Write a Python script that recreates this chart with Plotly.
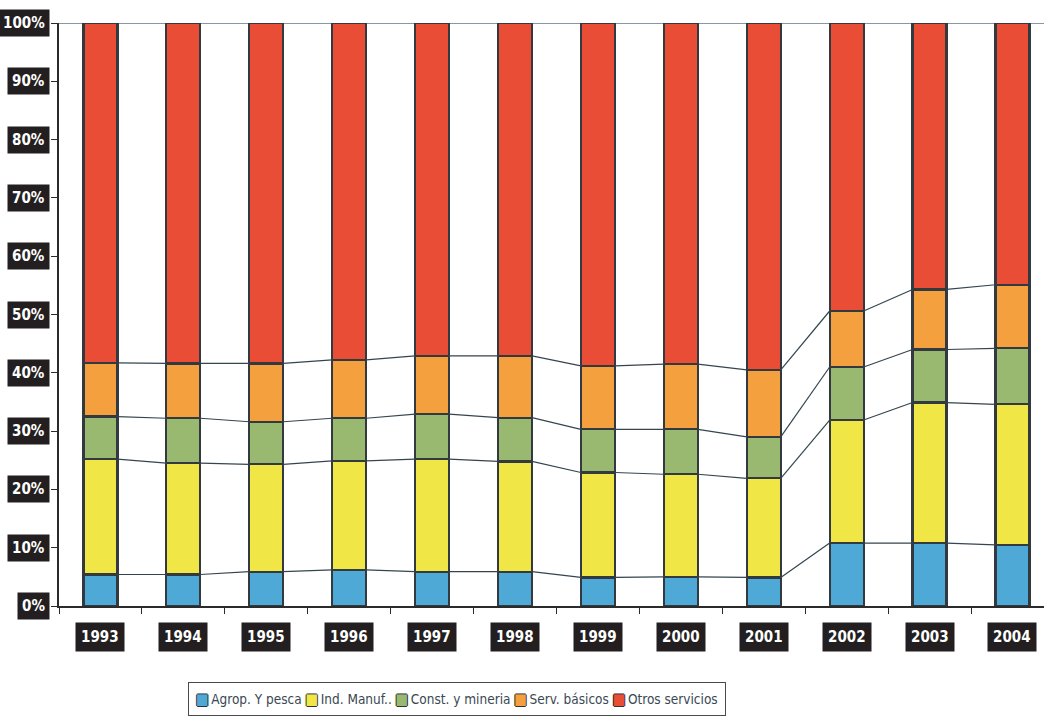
import plotly.graph_objects as go

years = ["1993", "1994", "1995", "1996", "1997", "1998",
         "1999", "2000", "2001", "2002", "2003", "2004"]

agrop = [5.4, 5.4, 5.9, 6.2, 5.9, 5.9, 4.9, 5.0, 4.9, 10.8, 10.8, 10.5]
ind_manuf = [19.8, 19.1, 18.4, 18.7, 19.3, 18.9, 18.0, 17.6, 17.0, 21.1, 24.1, 24.1]
const_min = [7.3, 7.7, 7.3, 7.3, 7.7, 7.5, 7.4, 7.7, 7.1, 9.1, 9.1, 9.6]
serv_bas = [9.2, 9.4, 10.0, 10.0, 10.0, 10.6, 10.9, 11.2, 11.5, 9.6, 10.3, 10.9]
otros = [58.3, 58.4, 58.4, 57.8, 57.1, 57.1, 58.8, 58.5, 59.5, 49.4, 45.7, 44.9]

series_names = ["Agrop. Y pesca", "Ind. Manuf..", "Const. y mineria",
                "Serv. básicos", "Otros servicios"]
series_vals = [agrop, ind_manuf, const_min, serv_bas, otros]
colors = ["#4fa9d6", "#f0e645", "#98b96f", "#f5a03f", "#e94d36"]

y_ticks = [0, 10, 20, 30, 40, 50, 60, 70, 80, 90, 100]

BAR_W = 0.41
EDGE = "#333a3f"
LABEL_FONT = "Liberation Sans Narrow, DejaVu Sans Condensed, Liberation Sans, Arial, sans-serif"
LEGEND_FONT = "Liberation Sans Narrow, DejaVu Sans Condensed, Liberation Sans, Arial, sans-serif"

x = list(range(len(years)))
fig = go.Figure()

for name, vals, col in zip(series_names, series_vals, colors):
    fig.add_trace(go.Bar(
        x=x, y=vals, name=name, width=BAR_W, showlegend=False,
        marker=dict(color=col, line=dict(color=EDGE, width=2.2)),
    ))

# series lines joining the top of each stacked segment between adjacent bars
cum = [0.0] * len(years)
lx, ly = [], []
for vals in series_vals[:-1]:
    cum = [c + v for c, v in zip(cum, vals)]
    for i in range(len(years) - 1):
        lx += [i + BAR_W / 2, i + 1 - BAR_W / 2, None]
        ly += [cum[i], cum[i + 1], None]
fig.add_trace(go.Scatter(
    x=lx, y=ly, mode="lines", showlegend=False, hoverinfo="skip",
    line=dict(color="#34454f", width=1.2),
))

annotations = []
for t in y_ticks:
    annotations.append(dict(
        x=-0.009, xref="paper", y=t, yref="y", xanchor="right", yanchor="middle",
        text=f"<b>{t}%</b>", showarrow=False, bgcolor="#231f20",
        borderpad=4, font=dict(family=LABEL_FONT, size=15, color="#ffffff"),
    ))
for i, yr in enumerate(years):
    annotations.append(dict(
        x=i, xref="x", y=-0.053, yref="paper", xanchor="center", yanchor="middle",
        text=f"<b>{yr}</b>", showarrow=False, bgcolor="#231f20",
        borderpad=5, font=dict(family=LABEL_FONT, size=15, color="#ffffff"),
    ))

# compact boxed legend: outlined colour square followed by the series name
outline = "text-shadow:1px 0 0 #2e3438,-1px 0 0 #2e3438,0 1px 0 #2e3438,0 -1px 0 #2e3438"
entries = [
    f'<span style="color:{col};{outline};font-size:15px">■</span>\u2009{name}'
    for name, col in zip(series_names, colors)
]
annotations.append(dict(
    x=0.404, xref="paper", y=-0.160, yref="paper", xanchor="center", yanchor="middle",
    text=" ".join(entries), showarrow=False, bgcolor="#ffffff",
    bordercolor="#4a4a4a", borderwidth=1, borderpad=7,
    font=dict(family=LEGEND_FONT, size=13.5, color="#3a4853"),
))

fig.update_layout(
    width=1044, height=724,
    margin=dict(l=59, r=0, t=23, b=118),
    barmode="stack",
    showlegend=False,
    paper_bgcolor="#ffffff", plot_bgcolor="#ffffff",
    annotations=annotations,
    shapes=[dict(type="line", xref="paper", yref="y", x0=0, x1=1, y0=100, y1=100,
                 line=dict(color="#5f7584", width=1.5), layer="below")],
    xaxis=dict(
        range=[-0.5, 11.38], showgrid=False, zeroline=False,
        showline=True, linecolor="#2b2b2b", linewidth=1.5,
        tickvals=[i + 0.5 for i in range(-1, len(years))], ticks="outside",
        ticklen=6, tickcolor="#2b2b2b", showticklabels=False,
    ),
    yaxis=dict(
        range=[0, 100], showgrid=False, zeroline=False,
        showline=True, linecolor="#2b2b2b", linewidth=1.5,
        tickvals=y_ticks, ticks="outside", ticklen=6, tickcolor="#2b2b2b",
        showticklabels=False,
    ),
)

fig.write_html("out.html")
